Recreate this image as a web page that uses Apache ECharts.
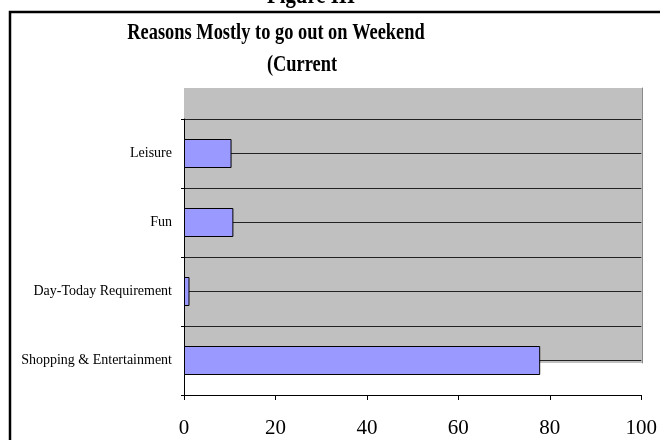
<!DOCTYPE html>
<html>
<head>
<meta charset="utf-8">
<script src="https://cdn.jsdelivr.net/npm/echarts@6/dist/echarts.min.js"></script>
<style>
  html, body { margin: 0; padding: 0; background: #fff; }
  #chart { width: 660px; height: 440px; }
</style>
</head>
<body>
<div id="chart"></div>
<script>
// categories listed bottom -> top (echarts category axis starts at the bottom)
const categories = ['Shopping & Entertainment', 'Day-Today Requirement', 'Fun', 'Leisure'];
const values = [77.9, 1.2, 10.8, 10.4];
const xTicks = [0, 20, 40, 60, 80, 100];

const serif = 'Liberation Serif, Times New Roman, serif';

let myChart = echarts.init(document.getElementById('chart'));

// the original titles use a narrow bold serif, so squeeze the text a little
function titleText (text, cx, y, size) {
  return {
    type: 'text',
    x: cx,
    y: y,
    scaleX: 0.8,
    style: {
      text: text,
      fontFamily: serif,
      fontWeight: 'bold',
      fontSize: size,
      fill: '#000',
      textAlign: 'center',
      textVerticalAlign: 'top'
    }
  };
}

const option = {
  animation: false,
  graphic: [
    {
      type: 'rect',
      shape: { x: 10, y: 12, width: 700, height: 500 },
      style: { fill: 'none', stroke: '#000', lineWidth: 2.5 },
      z: -10
    },
    titleText('Figure III', 311, -17, 26),
    titleText('Reasons Mostly to go out on Weekend', 276, 22, 23),
    titleText('(Current', 302, 54, 23)
  ],
  grid: [
    // back wall (shifted up like the original's depth effect)
    {
      left: 184, right: 18, top: 88, bottom: 77,
      show: true, backgroundColor: '#c0c0c0', borderWidth: 0
    },
    // actual plotting grid
    {
      left: 184, right: 18, top: 119, bottom: 45
    }
  ],
  xAxis: [
    { gridIndex: 0, type: 'value', min: 0, max: 100, show: false },
    {
      gridIndex: 1,
      type: 'value',
      min: 0,
      max: 100,
      interval: 20,
      axisLine: { show: true, lineStyle: { color: '#000', width: 1 } },
      axisTick: { show: true, length: 5, lineStyle: { color: '#000' } },
      axisLabel: {
        margin: 23,
        fontFamily: serif,
        fontSize: 21,
        color: '#000',
        formatter: (v) => xTicks.includes(v) ? String(v) : ''
      },
      splitLine: { show: false }
    }
  ],
  yAxis: [
    { gridIndex: 0, type: 'value', show: false },
    {
      gridIndex: 1,
      type: 'category',
      data: categories,
      axisLine: { show: true, lineStyle: { color: '#000', width: 1 } },
      axisTick: { show: true, length: 3, lineStyle: { color: '#000' } },
      axisLabel: { margin: 12, fontFamily: serif, fontSize: 14, color: '#000' },
      splitLine: { show: false }
    },
    {
      // hidden helper axis: lines at every half category band
      gridIndex: 1,
      type: 'value',
      min: 0,
      max: categories.length * 2,
      interval: 1,
      position: 'left',
      axisLine: { show: false },
      axisTick: { show: false },
      axisLabel: { show: false },
      splitLine: { show: true, lineStyle: { color: '#222', width: 1 } }
    },
    {
      // darker right edge of the grey wall
      gridIndex: 0,
      type: 'value',
      position: 'right',
      axisLine: { show: true, onZero: false, lineStyle: { color: '#8a8a8a', width: 1 } },
      axisTick: { show: false },
      axisLabel: { show: false },
      splitLine: { show: false }
    }
  ],
  series: [
    {
      type: 'bar',
      xAxisIndex: 1,
      yAxisIndex: 1,
      data: values,
      barWidth: 29,
      itemStyle: { color: '#9999ff', borderColor: '#000', borderWidth: 1 }
    }
  ]
};

myChart.setOption(option);
</script>
</body>
</html>
